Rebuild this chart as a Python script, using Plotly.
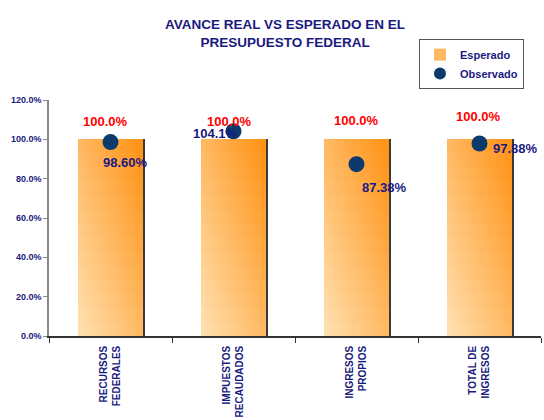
import plotly.graph_objects as go

categories = ["RECURSOS<br>FEDERALES", "IMPUESTOS<br>RECAUDADOS", "INGRESOS<br>PROPIOS", "TOTAL DE<br>INGRESOS"]
esperado = [100.0, 100.0, 100.0, 100.0]
observado = [98.60, 104.1, 87.38, 97.88]
esperado_labels = ["100.0%", "100.0%", "100.0%", "100.0%"]
observado_labels = ["98.60%", "104.1%", "87.38%", "97.88%"]
y_range = [0, 120]
y_step = 20

# style
NAVY = "#1a1a80"
FONT = "Liberation Sans, Arial"
W = 0.53
C, R = 16, 14
c0 = (255, 226, 180)
c1 = (255, 144, 16)
esp_shift = [(-5, 18), (-4, 18), (0, 19), (-1, 23)]
obs_shift = [(15, -20), (-18, -2), (28, -23), (36, -5)]

def mix(t):
    t = max(0.0, min(1.0, t))
    return "rgb(%d,%d,%d)" % tuple(round(a + (b - a) * t) for a, b in zip(c0, c1))

fig = go.Figure()

# shadow
fig.add_trace(go.Bar(x=categories, y=esperado, width=W, offset=-W / 2 + 0.018,
                     marker=dict(color="#3a3a3a", line_width=0), showlegend=False,
                     hoverinfo="skip"))

# gradient bar built from slices of the same values
for k in range(R):
    frac = (R - k) / R
    h = (R - k - 0.5) / R
    for i in range(C):
        u = (i + 0.5) / C
        show = (k == R // 2 and i == C // 2)
        fig.add_trace(go.Bar(
            x=categories, y=[v * frac for v in esperado],
            width=W / C * (1.1 if i < C - 1 else 1.0), offset=-W / 2 + i * W / C,
            marker=dict(color=mix((u + h) / 2), line_width=0),
            name="Esperado", showlegend=show, legendrank=1,
            hoverinfo="skip"))

fig.add_trace(go.Scatter(x=categories, y=observado, mode="markers", name="Observado",
                         marker=dict(size=16, color="#0c3a6b"), legendrank=2,
                         hoverinfo="skip"))

ann = []
for c, v, t, (dx, dy) in zip(categories, esperado, esperado_labels, esp_shift):
    ann.append(dict(x=c, y=v, text="<b>%s</b>" % t, showarrow=False, xshift=dx, yshift=dy,
                    font=dict(family=FONT, size=13, color="#ff0000")))
for c, v, t, (dx, dy) in zip(categories, observado, observado_labels, obs_shift):
    ann.append(dict(x=c, y=v, text="<b>%s</b>" % t, showarrow=False, xshift=dx, yshift=dy,
                    font=dict(family=FONT, size=13, color=NAVY)))

fig.update_layout(
    width=544, height=420,
    margin=dict(l=49, r=3, t=100, b=84),
    paper_bgcolor="white", plot_bgcolor="white",
    barmode="overlay", bargap=0,
    title=dict(text="<b>AVANCE REAL VS ESPERADO EN EL<br>PRESUPUESTO FEDERAL</b>",
               x=0.524, xanchor="center", yref="container", y=0.93, yanchor="middle",
               font=dict(family=FONT, size=13.5, color=NAVY)),
    legend=dict(x=0.752, y=1.258, xanchor="left", yanchor="top",
                bgcolor="white", bordercolor="#555555", borderwidth=1,
                font=dict(family=FONT, size=11, color=NAVY, weight="bold"),
                tracegroupgap=0, itemsizing="constant"),
    annotations=ann,
    xaxis=dict(type="category", showline=True, linecolor="#333333", linewidth=1.5,
               ticks="outside", tickson="boundaries", ticklen=5, tickcolor="#333333",
               tickangle=-90, showgrid=False, ticklabelstandoff=4, automargin=False,
               tickfont=dict(family=FONT, size=10, color=NAVY, weight="bold")),
    yaxis=dict(range=y_range, tick0=0, dtick=y_step, tickformat=".1f", ticksuffix="%",
               showline=True, linecolor="#888888", linewidth=1.5, ticks="outside",
               ticklen=4, tickcolor="#888888", showgrid=False, zeroline=False,
               automargin=False,
               tickfont=dict(family=FONT, size=9, color=NAVY, weight="bold")),
)

fig.write_html("out.html")
